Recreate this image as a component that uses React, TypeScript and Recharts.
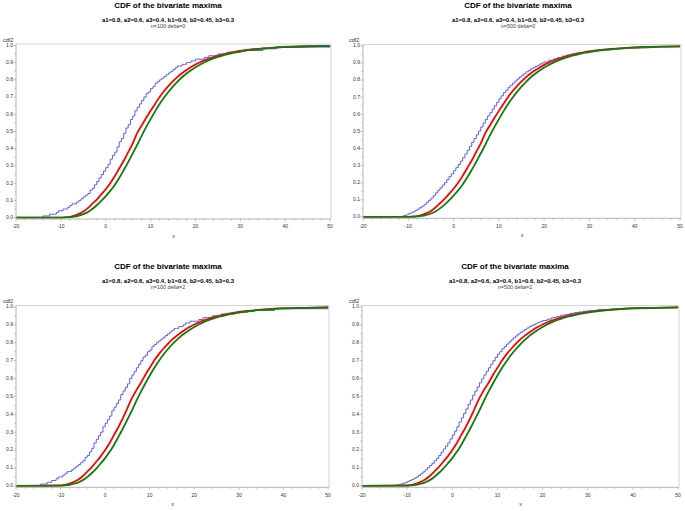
import * as React from "react";
import { LineChart, Line, XAxis, YAxis } from "recharts";

// x grid of the empirical (step) CDFs
const STEP_X = [-20, -15, -14.5, -14, -13.5, -13, -12.5, -12, -11.5, -11, -10.5, -10, -9.5, -9, -8.5, -8, -7.5, -7, -6.5, -6, -5.5, -5, -4.5, -4, -3.5, -3, -2.5, -2, -1.5, -1, -0.5, 0, 0.5, 1, 1.5, 2, 2.5, 3, 3.5, 4, 4.5, 5, 5.5, 6, 6.5, 7, 7.5, 8, 8.5, 9, 9.5, 10, 10.5, 11, 11.5, 12, 12.5, 13, 13.5, 14, 14.5, 15, 15.5, 16, 16.5, 17, 17.5, 18, 18.5, 19, 19.5, 20, 21, 22, 23, 24, 25, 26, 27, 28, 29, 30, 32, 35, 38, 41, 45, 50];

// x grid of the smooth CDFs
const CURVE_X = [-20, -10, -9, -8, -7, -6, -5, -4, -3, -2, -1, 0, 1, 2, 3, 4, 5, 6, 7, 8, 9, 10, 11, 12, 13, 14, 15, 16, 17, 18, 19, 20, 21, 22, 23, 24, 25, 26, 27, 28, 29, 30, 32, 35, 38, 41, 45, 50];

const BLUE_N100_D0 = [0,
  0, 0, 0.01, 0.01, 0.01, 0.02, 0.02, 0.02, 0.03, 0.04,
  0.04, 0.05, 0.05, 0.06, 0.07, 0.08, 0.08, 0.09, 0.10, 0.11,
  0.12, 0.13, 0.14, 0.16, 0.17, 0.19, 0.21, 0.23, 0.25, 0.27,
  0.29, 0.31, 0.34, 0.36, 0.38, 0.41, 0.44, 0.46, 0.49, 0.52,
  0.54, 0.57, 0.59, 0.62, 0.64, 0.66, 0.68, 0.70, 0.72, 0.73,
  0.75, 0.76, 0.78, 0.79, 0.80, 0.81, 0.82, 0.83, 0.84, 0.85,
  0.86, 0.87, 0.88, 0.88, 0.89, 0.89, 0.90, 0.90, 0.91, 0.91,
  0.92,
  0.92, 0.93, 0.94, 0.94, 0.95, 0.95, 0.96, 0.96, 0.96, 0.97,
  0.97, 0.98, 0.99, 0.99, 0.99, 1.0];

const BLUE_N500_D0 = [0,
  0, 0, 0, 0, 0, 0.002, 0.002, 0.004, 0.008, 0.012,
  0.018, 0.024, 0.030, 0.038, 0.046, 0.054, 0.062, 0.074, 0.086, 0.098,
  0.110, 0.124, 0.140, 0.156, 0.170, 0.186, 0.200, 0.218, 0.236, 0.252,
  0.270, 0.288, 0.306, 0.326, 0.346, 0.368, 0.390, 0.412, 0.436, 0.458,
  0.480, 0.502, 0.526, 0.548, 0.570, 0.590, 0.610, 0.630, 0.650, 0.670,
  0.690, 0.708, 0.726, 0.740, 0.756, 0.770, 0.782, 0.794, 0.806, 0.818,
  0.828, 0.838, 0.848, 0.856, 0.866, 0.872, 0.880, 0.886, 0.894, 0.900,
  0.906,
  0.916, 0.924, 0.932, 0.940, 0.946, 0.952, 0.958, 0.962, 0.966, 0.970,
  0.976, 0.984, 0.988, 0.992, 0.996, 0.998];

const BLUE_N100_D2 = [0,
  0, 0.01, 0.01, 0.01, 0.02, 0.02, 0.03, 0.03, 0.04, 0.05,
  0.05, 0.06, 0.07, 0.08, 0.08, 0.09, 0.10, 0.11, 0.12, 0.13,
  0.14, 0.16, 0.17, 0.19, 0.21, 0.24, 0.26, 0.28, 0.30, 0.33,
  0.35, 0.37, 0.39, 0.42, 0.44, 0.46, 0.48, 0.51, 0.53, 0.55,
  0.57, 0.60, 0.62, 0.64, 0.66, 0.68, 0.70, 0.72, 0.73, 0.75,
  0.76, 0.78, 0.79, 0.80, 0.81, 0.82, 0.83, 0.84, 0.85, 0.86,
  0.87, 0.88, 0.88, 0.89, 0.89, 0.90, 0.91, 0.91, 0.92, 0.92,
  0.92,
  0.93, 0.94, 0.94, 0.95, 0.95, 0.96, 0.96, 0.96, 0.97, 0.97,
  0.98, 0.98, 0.99, 0.99, 0.99, 1.0];

const BLUE_N500_D2 = [0,
  0, 0, 0, 0, 0.002, 0.004, 0.006, 0.010, 0.014, 0.018,
  0.024, 0.030, 0.036, 0.042, 0.050, 0.058, 0.068, 0.078, 0.090, 0.102,
  0.114, 0.126, 0.140, 0.154, 0.170, 0.188, 0.206, 0.222, 0.240, 0.262,
  0.284, 0.306, 0.330, 0.356, 0.380, 0.404, 0.430, 0.456, 0.480, 0.506,
  0.530, 0.552, 0.576, 0.598, 0.620, 0.640, 0.660, 0.680, 0.700, 0.718,
  0.736, 0.750, 0.766, 0.778, 0.792, 0.804, 0.816, 0.828, 0.838, 0.848,
  0.858, 0.866, 0.874, 0.882, 0.890, 0.896, 0.902, 0.908, 0.914, 0.918,
  0.924,
  0.932, 0.940, 0.946, 0.954, 0.958, 0.964, 0.968, 0.972, 0.976, 0.978,
  0.984, 0.988, 0.992, 0.994, 0.996, 0.998];

const RED_D0 = [0, 0, 0.002, 0.005, 0.012, 0.022, 0.035, 0.055, 0.08, 0.105, 0.135, 0.165, 0.2, 0.24, 0.285, 0.33, 0.38, 0.43, 0.49, 0.535, 0.578, 0.62, 0.66, 0.70, 0.735, 0.765, 0.792, 0.817, 0.838, 0.857, 0.874, 0.889, 0.902, 0.913, 0.923, 0.932, 0.94, 0.947, 0.953, 0.959, 0.964, 0.968, 0.975, 0.983, 0.988, 0.992, 0.995, 0.997];

const GREEN_D0 = [0, 0, 0.001, 0.003, 0.006, 0.012, 0.02, 0.032, 0.05, 0.072, 0.097, 0.125, 0.155, 0.19, 0.23, 0.275, 0.322, 0.372, 0.422, 0.475, 0.525, 0.572, 0.617, 0.659, 0.697, 0.731, 0.762, 0.79, 0.815, 0.837, 0.856, 0.873, 0.888, 0.902, 0.914, 0.924, 0.933, 0.941, 0.948, 0.954, 0.96, 0.964, 0.972, 0.981, 0.987, 0.991, 0.994, 0.997];

const RED_D2 = [0, 0.002, 0.005, 0.012, 0.022, 0.035, 0.055, 0.08, 0.105, 0.135, 0.165, 0.2, 0.24, 0.285, 0.33, 0.38, 0.435, 0.49, 0.535, 0.575, 0.62, 0.66, 0.70, 0.735, 0.765, 0.792, 0.817, 0.838, 0.857, 0.874, 0.889, 0.902, 0.913, 0.923, 0.932, 0.94, 0.947, 0.953, 0.959, 0.964, 0.968, 0.972, 0.978, 0.985, 0.99, 0.993, 0.995, 0.997];

const GREEN_D2 = [0, 0.001, 0.003, 0.006, 0.012, 0.02, 0.032, 0.05, 0.072, 0.097, 0.125, 0.155, 0.19, 0.23, 0.275, 0.322, 0.372, 0.422, 0.475, 0.525, 0.572, 0.617, 0.659, 0.697, 0.731, 0.762, 0.79, 0.815, 0.837, 0.856, 0.873, 0.888, 0.902, 0.914, 0.924, 0.933, 0.941, 0.948, 0.954, 0.96, 0.964, 0.968, 0.975, 0.983, 0.989, 0.992, 0.995, 0.997];

const X_TICKS = [-20, -18, -16, -14, -12, -10, -8, -6, -4, -2, 0, 2, 4, 6, 8, 10, 12, 14, 16, 18, 20, 22, 24, 26, 28, 30, 32, 34, 36, 38, 40, 42, 44, 46, 48, 50];
const Y_TICKS = [0, 0.05, 0.1, 0.15, 0.2, 0.25, 0.3, 0.35, 0.4, 0.45, 0.5, 0.55, 0.6, 0.65, 0.7, 0.75, 0.8, 0.85, 0.9, 0.95, 1];

const TITLE = "CDF of the bivariate maxima";
const PARAMS = "a1=0.8, a2=0.6, a3=0.4, b1=0.6, b2=0.45, b3=0.3";

const FONT = '"Liberation Sans", Arial, sans-serif';
const AXIS = "#b4b4b4";
const FRAME = "#d4d4d4";

const toPoints = (xs: number[], ys: number[]) => xs.map((x, i) => ({ x, y: ys[i] }));

const panels = [
  { sub: "n=100 delta=0", blue: BLUE_N100_D0, red: RED_D0, green: GREEN_D0, px: 0, py: 0, pw: 342, ph: 255, left: 16, top: 44, right: 331, bottom: 219, cx: 168, ty: 0 },
  { sub: "n=500 delta=0", blue: BLUE_N500_D0, red: RED_D0, green: GREEN_D0, px: 342, py: 0, pw: 343, ph: 255, left: 363, top: 44.5, right: 681, bottom: 218.3, cx: 518, ty: 0 },
  { sub: "n=100 delta=2", blue: BLUE_N100_D2, red: RED_D2, green: GREEN_D2, px: 0, py: 255, pw: 342, ph: 256, left: 16, top: 305.5, right: 329, bottom: 487.3, cx: 168, ty: 261 },
  { sub: "n=500 delta=2", blue: BLUE_N500_D2, red: RED_D2, green: GREEN_D2, px: 342, py: 255, pw: 343, ph: 256, left: 362, top: 305.5, right: 679, bottom: 487.3, cx: 515, ty: 261 },
];

const XTick = (props: any) => {
  const { x, y, payload } = props;
  const v = payload.value;
  const major = v % 10 === 0;
  return (
    <g>
      <line x1={x} x2={x} y1={y} y2={y + (major ? 2.5 : 1.5)} stroke="#999" strokeWidth={0.6} />
      {major && (
        <text x={x} y={y + 8} textAnchor="middle" dominantBaseline="middle" fontSize={5} fill="#333" fontFamily={FONT}>
          {v}
        </text>
      )}
    </g>
  );
};

const YTick = (props: any) => {
  const { x, y, payload } = props;
  const v = payload.value;
  const major = Math.abs(v * 10 - Math.round(v * 10)) < 1e-6;
  return (
    <g>
      <line x1={x} x2={x - (major ? 2.5 : 1.5)} y1={y} y2={y} stroke="#999" strokeWidth={0.6} />
      {major && (
        <text x={x - 3} y={y} textAnchor="end" dominantBaseline="middle" fontSize={5} fill="#333" fontFamily={FONT}>
          {v.toFixed(1)}
        </text>
      )}
    </g>
  );
};

const X_AXIS_H = 20;
const Y_AXIS_W = 16;

function Panel({ p }: { p: (typeof panels)[number] }) {
  const margin = {
    top: p.top - p.py - 1,
    left: p.left - p.px - Y_AXIS_W,
    right: p.px + p.pw - p.right - 1,
    bottom: p.py + p.ph - p.bottom - X_AXIS_H,
  };
  return (
    <div style={{ position: "absolute", left: p.px, top: p.py }}>
      <LineChart width={p.pw} height={p.ph} margin={margin}>
        <XAxis
          type="number"
          dataKey="x"
          domain={[-20, 50.2]}
          ticks={X_TICKS}
          interval={0}
          tickSize={0}
          tickMargin={0}
          tickLine={false}
          height={X_AXIS_H}
          allowDataOverflow
          axisLine={{ stroke: AXIS }}
          tick={<XTick />}
        />
        <XAxis xAxisId="top" orientation="top" type="number" domain={[-20, 50.2]} height={1} tick={false} tickLine={false} axisLine={{ stroke: FRAME }} />
        <YAxis
          type="number"
          domain={[-0.008, 1.008]}
          ticks={Y_TICKS}
          interval={0}
          tickSize={0}
          tickMargin={0}
          tickLine={false}
          width={Y_AXIS_W}
          allowDataOverflow
          axisLine={{ stroke: AXIS }}
          tick={<YTick />}
        />
        <YAxis yAxisId="right" orientation="right" type="number" domain={[0, 1]} width={1} tick={false} tickLine={false} axisLine={{ stroke: FRAME }} />
        <Line data={toPoints(STEP_X, p.blue)} dataKey="y" type="stepAfter" stroke="#5c5cff" strokeWidth={1} dot={false} isAnimationActive={false} />
        <Line data={toPoints(CURVE_X, p.red)} dataKey="y" type="monotone" stroke="#ff0000" strokeWidth={1.8} dot={false} isAnimationActive={false} />
        <Line data={toPoints(CURVE_X, p.green)} dataKey="y" type="monotone" stroke="#0b7f0b" strokeWidth={1.8} dot={false} isAnimationActive={false} />
      </LineChart>
    </div>
  );
}

export default function App() {
  return (
    <div style={{ position: "absolute", left: 0, top: 0, width: 685, height: 511, background: "#fff", overflow: "hidden" }}>
      {panels.map((p) => (
        <Panel key={p.sub} p={p} />
      ))}
      <svg width={685} height={511} style={{ position: "absolute", left: 0, top: 0, pointerEvents: "none" }}>
        {panels.map((p) => (
          <g key={p.sub} fontFamily={FONT}>
            <text x={p.cx} y={p.ty + 6} textAnchor="middle" dominantBaseline="middle" fontSize={8} fontWeight="bold" fill="#000">
              {TITLE}
            </text>
            <text x={p.cx} y={p.ty + 20.7} textAnchor="middle" dominantBaseline="middle" fontSize={6} fontWeight="bold" fill="#000">
              {PARAMS}
            </text>
            <text x={p.cx} y={p.ty + 26.9} textAnchor="middle" dominantBaseline="middle" fontSize={5.4} fill="#444">
              {p.sub}
            </text>
            <text x={p.px + (p.px === 0 ? 3 : 7)} y={p.top - 3.5} dominantBaseline="middle" fontSize={5.4} fill="#333">
              cdf2
            </text>
            <text x={(p.left + p.right) / 2} y={p.bottom + 17.5} textAnchor="middle" dominantBaseline="middle" fontSize={5.4} fill="#333">
              x
            </text>
          </g>
        ))}
      </svg>
    </div>
  );
}
